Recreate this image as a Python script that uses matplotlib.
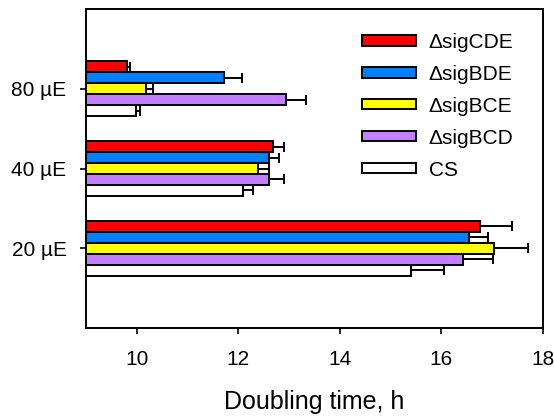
import matplotlib
matplotlib.use("Agg")
import matplotlib.pyplot as plt
import numpy as np

plt.rcParams['font.family'] = ['Liberation Sans', 'DejaVu Sans']
plt.rcParams['font.sans-serif'] = ['Liberation Sans', 'DejaVu Sans']

categories = ["20 µE", "40 µE", "80 µE"]
series = ["ΔsigCDE", "ΔsigBDE", "ΔsigBCE", "ΔsigBCD", "CS"]
colors = ["#FF0000", "#0080FF", "#FFFF00", "#C080FF", "#FFFFFF"]
values = {
    "ΔsigCDE": [16.75, 12.69, 9.80],
    "ΔsigBDE": [16.55, 12.60, 11.71],
    "ΔsigBCE": [17.04, 12.39, 10.18],
    "ΔsigBCD": [16.42, 12.60, 12.94],
    "CS":      [15.40, 12.10, 9.99],
}
errors = {
    "ΔsigCDE": [0.64, 0.21, 0.06],
    "ΔsigBDE": [0.37, 0.20, 0.37],
    "ΔsigBCE": [0.67, 0.21, 0.13],
    "ΔsigBCD": [0.60, 0.30, 0.40],
    "CS":      [0.66, 0.19, 0.07],
}
xticks = [10, 12, 14, 16, 18]

fig = plt.figure(figsize=(5.54, 4.19), dpi=100)
ax = fig.add_axes([86/554, 1-328/419, (543-86)/554, (328-9)/419])

h = 0.1375
y = np.arange(len(categories))
base = 9
for i, s in enumerate(series):
    off = (2 - i) * h
    vals = np.array(values[s])
    ax.barh(y + off, vals - base, left=base, height=h, color=colors[i],
            edgecolor='black', linewidth=1.4, label=s, zorder=2)
    ax.errorbar(vals, y + off, xerr=[np.zeros(3), errors[s]], fmt='none',
                ecolor='black', elinewidth=1.4, capsize=3.5, capthick=1.4, zorder=3)

ax.set_xlim(9, 18)
ax.set_ylim(-1, 3)
ax.set_xticks(xticks)
ax.set_xticklabels([str(t) for t in xticks], fontsize=15, family='Liberation Sans')
ax.set_yticks(y)
ax.set_yticklabels(categories, fontsize=15, family='Liberation Sans')
ax.tick_params(axis='both', direction='out', length=4, width=1.2)
ax.tick_params(axis='x', pad=12)
ax.tick_params(axis='y', pad=10)
for sp in ax.spines.values():
    sp.set_linewidth(1.4)
ax.set_xlabel("Doubling time, h", fontsize=18, labelpad=15, family='Liberation Sans')

leg = ax.legend(loc='upper left', bbox_to_anchor=((362-86)/457, 1 - (33-9)/319), frameon=False,
                prop={'family': 'Liberation Sans', 'size': 15},
                handlelength=2.6, handleheight=0.38, handletextpad=0.6,
                labelspacing=0.62, borderaxespad=0, borderpad=0)

fig.savefig("out.png", dpi=100, facecolor='white')
